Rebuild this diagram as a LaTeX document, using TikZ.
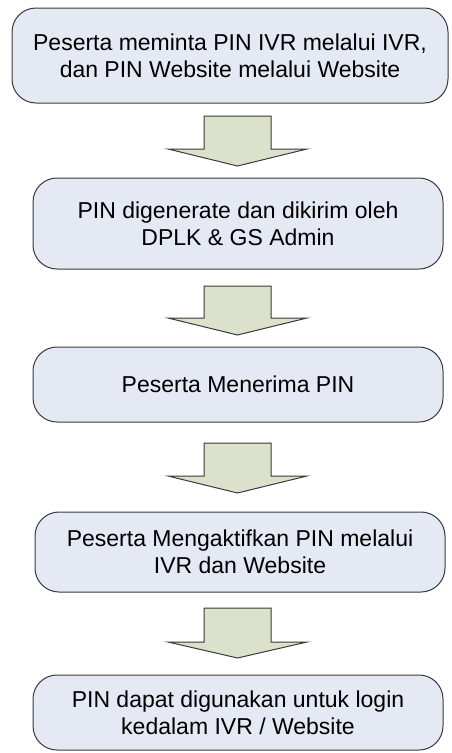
\documentclass[tikz,border=0pt]{standalone}
\usepackage{fontspec}
\setmainfont{Liberation Sans}
\definecolor{boxfill}{HTML}{E4E9F3}
\definecolor{arrowfill}{HTML}{DCE1CB}
\definecolor{edge}{HTML}{3A3A3A}
\begin{document}
\begin{tikzpicture}[x=1pt,y=-1pt,
  stepbox/.style={draw=edge, line width=1pt, fill=boxfill, rounded corners=24pt,
    align=center, font=\fontsize{23}{27}\selectfont, inner sep=0pt},
  blockarrow/.style={draw=edge, line width=1pt, fill=arrowfill, line join=miter}]
\useasboundingbox (0,0) rectangle (452,753);
\node[stepbox, minimum width=436pt, minimum height=95pt] (b1) at (230,55.5)
  {Peserta meminta PIN IVR melalui IVR,\\dan PIN Website melalui Website};
\node[stepbox, minimum width=410pt, minimum height=91pt] (b2) at (238,223.5)
  {PIN digenerate dan dikirim oleh\\DPLK \& GS Admin};
\node[stepbox, minimum width=410pt, minimum height=75pt] (b3) at (238,384.5)
  {Peserta Menerima PIN};
\node[stepbox, minimum width=410pt, minimum height=80pt] (b4) at (240,552)
  {Peserta Mengaktifkan PIN melalui\\IVR dan Website};
\node[stepbox, minimum width=410pt, minimum height=75pt] (b5) at (238,712.5)
  {PIN dapat digunakan untuk login\\kedalam IVR / Website};
\newcommand{\blkarrow}[3]{%
  \draw[blockarrow] (204,#1) -- (271,#1) -- (271,#2) -- (307,#2) -- (237.5,#3)
    -- (168,#2) -- (204,#2) -- cycle;}
\blkarrow{116}{149}{166}
\blkarrow{286}{318}{335}
\blkarrow{443}{476}{493}
\blkarrow{608}{642}{658}
\end{tikzpicture}
\end{document}
